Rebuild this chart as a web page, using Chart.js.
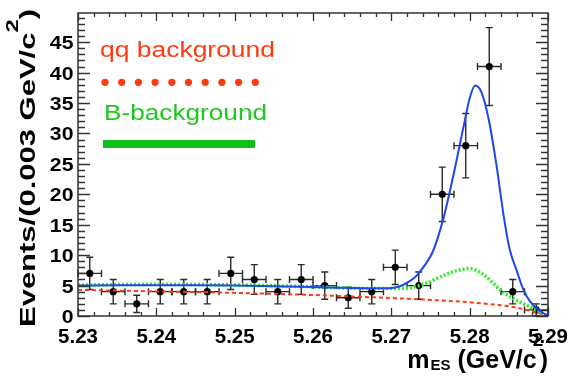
<!DOCTYPE html>
<html><head><meta charset="utf-8">
<script src="https://cdn.jsdelivr.net/npm/chart.js@4.4.1/dist/chart.umd.min.js"></script>
<style>html,body{margin:0;padding:0;background:#fff;}canvas{display:block;}</style>
</head><body>
<canvas id="c" width="573" height="382"></canvas>
<script>
// ---- data ----
const binCenters = [5.2315,5.2345,5.2375,5.2405,5.2435,5.2465,5.2495,5.2525,5.2555,5.2585,
                    5.2615,5.2645,5.2675,5.2705,5.2735,5.2765,5.2795,5.2825,5.2855,5.2885];
const binCounts  = [7,4,2,4,4,4,7,6,4,6,5,3,4,8,5,20,28,41,4,1];
const binHalfWidth = 0.0015;

const totalFitX = [5.230,5.235,5.240,5.245,5.250,5.255,5.260,5.265,5.268,5.2700,5.2711,5.2722,5.2732,5.2743,5.2753,5.2766,5.2779,5.2792,5.2800,5.2807,5.2815,5.2824,5.2834,5.2843,5.2851,5.2860,5.2868,5.2877,5.2888,5.2900];
const totalFitY = [5.0,5.05,5.05,5.05,5.0,4.9,4.75,4.6,4.55,4.6,4.9,5.6,6.6,8.4,10.6,15.8,23.0,31.0,35.8,37.9,36.8,32.5,25.0,16.8,11.0,7.5,4.5,2.4,1.0,0.0];

const bBkgX = [5.230,5.240,5.250,5.260,5.268,5.272,5.2745,5.2765,5.2785,5.2800,5.2813,5.2826,5.2838,5.2851,5.2864,5.2877,5.2888,5.2900];
const bBkgY = [5.1,5.2,5.1,4.8,4.5,4.6,5.4,6.6,7.5,7.8,7.2,5.9,4.4,3.2,2.3,1.5,0.8,0.0];

const qqBkgX = [5.230,5.240,5.250,5.260,5.265,5.270,5.275,5.280,5.2826,5.285,5.2868,5.2885,5.2900];
const qqBkgY = [4.3,4.05,3.8,3.45,3.2,2.95,2.65,2.25,1.95,1.6,1.15,0.6,0.0];

const xTickLabels = ["5.23","5.24","5.25","5.26","5.27","5.28","5.29"];
const yTickLabels = ["0","5","10","15","20","25","30","35","40","45"];
const legendLabels = ["qq background","B-background"];

// ---- helpers ----
const pts = (xs, ys) => xs.map((x,i)=>({x:x, y:ys[i]}));
function stretchText(ctx, s, x, y, font, color, align, sx){
  ctx.save(); ctx.font=font; ctx.fillStyle=color; ctx.textAlign=align||'left';
  ctx.translate(x,y); ctx.scale(sx||1,1); ctx.fillText(s,0,0); ctx.restore();
}

const decor = {
  id:'decor',
  beforeDatasetsDraw(chart){
    const ctx=chart.ctx, xs=chart.scales.x, ys=chart.scales.y;
    ctx.save(); ctx.strokeStyle='#2a2a2a'; ctx.lineWidth=1.4;
    binCenters.forEach((c,i)=>{
      const n=binCounts[i], e=Math.sqrt(n);
      const px=xs.getPixelForValue(c), py=ys.getPixelForValue(n);
      const x0=xs.getPixelForValue(c-binHalfWidth), x1=xs.getPixelForValue(c+binHalfWidth);
      const yt=ys.getPixelForValue(n+e), yb=ys.getPixelForValue(Math.max(0,n-e));
      ctx.beginPath();
      ctx.moveTo(x0,py); ctx.lineTo(x1,py);
      ctx.moveTo(px,yt); ctx.lineTo(px,yb);
      ctx.moveTo(px-3.5,yt); ctx.lineTo(px+3.5,yt);
      ctx.moveTo(px-3.5,yb); ctx.lineTo(px+3.5,yb);
      ctx.moveTo(x0,py-3.5); ctx.lineTo(x0,py+3.5);
      ctx.moveTo(x1,py-3.5); ctx.lineTo(x1,py+3.5);
      ctx.stroke();
    });
    ctx.restore();
  },
  afterDraw(chart){
    const ctx=chart.ctx, a=chart.chartArea, xs=chart.scales.x, ys=chart.scales.y;
    ctx.save();
    ctx.strokeStyle='#333'; ctx.lineWidth=1.5;
    ctx.strokeRect(a.left,a.top,a.right-a.left,a.bottom-a.top);
    ctx.lineWidth=1.3;
    ctx.beginPath();
    for(let v=0; v<=49; v++){
      const y=Math.round(ys.getPixelForValue(v))+0.5, L=(v%5===0)?12:7;
      ctx.moveTo(a.left,y); ctx.lineTo(a.left+L,y);
      ctx.moveTo(a.right,y); ctx.lineTo(a.right-L,y);
    }
    for(let k=0; k<=30; k++){
      const v=5.23+k*0.002, x=Math.round(xs.getPixelForValue(v))+0.5, L=(k%5===0)?8:4;
      ctx.moveTo(x,a.bottom); ctx.lineTo(x,a.bottom-L);
      ctx.moveTo(x,a.top); ctx.lineTo(x,a.top+L);
    }
    ctx.stroke();
    ctx.textBaseline='middle';
    yTickLabels.forEach(s=>{
      const y=ys.getPixelForValue(parseFloat(s));
      stretchText(ctx,s,73.5,y+2,'bold 18px "Liberation Sans", Arial, sans-serif','#000','right',1.18);
    });
    ctx.textBaseline='alphabetic';
    xTickLabels.forEach(s=>{
      const x=xs.getPixelForValue(parseFloat(s));
      stretchText(ctx,s,x,343,'bold 19.5px "Liberation Sans", Arial, sans-serif','#000','center',1.05);
    });
    // x title, right-aligned at ~548
    const fb=(p)=>'bold '+p+'px "Liberation Sans", Arial, sans-serif';
    const B=368;
    ctx.font=fb(25); const wm=ctx.measureText('m').width, wg=ctx.measureText(' (GeV/c').width, wp=ctx.measureText(')').width;
    ctx.font=fb(15); const we=ctx.measureText('ES').width;
    let xx=548-(wm+1+we+wg+3+wp);
    ctx.fillStyle='#000';
    ctx.font=fb(25); ctx.fillText('m',xx,B); xx+=wm+1;
    ctx.font=fb(15); ctx.fillText('ES',xx,B+2); xx+=we;
    ctx.font=fb(25); ctx.fillText(' (GeV/c',xx,B); xx+=wg;
    ctx.font=fb(19); ctx.fillText('2',xx-4,B-22); xx+=3;
    ctx.font=fb(25); ctx.fillText(')',xx,B);
    // y title (rotated)
    ctx.save();
    ctx.translate(35,327); ctx.rotate(-Math.PI/2);
    const p1='Events/(0.003 GeV/c', p3=')';
    ctx.font=fb(22); const w1=ctx.measureText(p1).width, w3=ctx.measureText(p3).width;
    ctx.font=fb(17); const w2=ctx.measureText('2').width;
    const sx=318/(w1+w2+w3);
    ctx.scale(sx,1);
    ctx.font=fb(22); ctx.fillText(p1,0,0);
    ctx.font=fb(17); ctx.fillText('2',w1,-17);
    ctx.font=fb(22); ctx.fillText(p3,w1+w2,0);
    ctx.restore();
    // legend
    ctx.font='22px "Liberation Sans", Arial, sans-serif';
    let w=ctx.measureText(legendLabels[0]).width;
    stretchText(ctx,legendLabels[0],100,56.5,'22px "Liberation Sans", Arial, sans-serif','#ff3a12','left',175/w);
    ctx.fillStyle='#ff3a12';
    for(let i=0;i<10;i++){ ctx.beginPath(); ctx.arc(105+i*16.7,82.3,3.6,0,Math.PI*2); ctx.fill(); }
    w=ctx.measureText(legendLabels[1]).width;
    stretchText(ctx,legendLabels[1],104,120,'22px "Liberation Sans", Arial, sans-serif','#1ec81e','left',163/w);
    ctx.fillStyle='#0fbf1a';
    ctx.fillRect(103,140,152,8);
    ctx.restore();
  }
};

new Chart(document.getElementById('c'),{
  data:{datasets:[
    {type:'scatter',data:pts(binCenters,binCounts),pointRadius:3.6,pointBackgroundColor:'#000',pointBorderColor:'#000',pointBorderWidth:0,order:10},
    {type:'line',data:pts(qqBkgX,qqBkgY),borderColor:'#ff3a12',borderWidth:2,borderDash:[4,3],pointRadius:0,cubicInterpolationMode:'monotone',fill:false,order:3},
    {type:'line',data:pts(bBkgX,bBkgY),borderColor:'#2aee2a',borderWidth:3.5,borderDash:[2,2],pointRadius:0,cubicInterpolationMode:'monotone',fill:false,order:2},
    {type:'line',data:pts(totalFitX,totalFitY),borderColor:'#1f46ec',borderWidth:2,pointRadius:0,cubicInterpolationMode:'monotone',fill:false,order:1}
  ]},
  options:{
    responsive:false, animation:false, devicePixelRatio:1,
    layout:{padding:{left:78,right:25,top:13,bottom:66}},
    plugins:{legend:{display:false},tooltip:{enabled:false}},
    scales:{
      x:{type:'linear',min:5.23,max:5.29,display:false},
      y:{type:'linear',min:0,max:49.8,display:false}
    }
  },
  plugins:[decor]
});
</script>
</body></html>
